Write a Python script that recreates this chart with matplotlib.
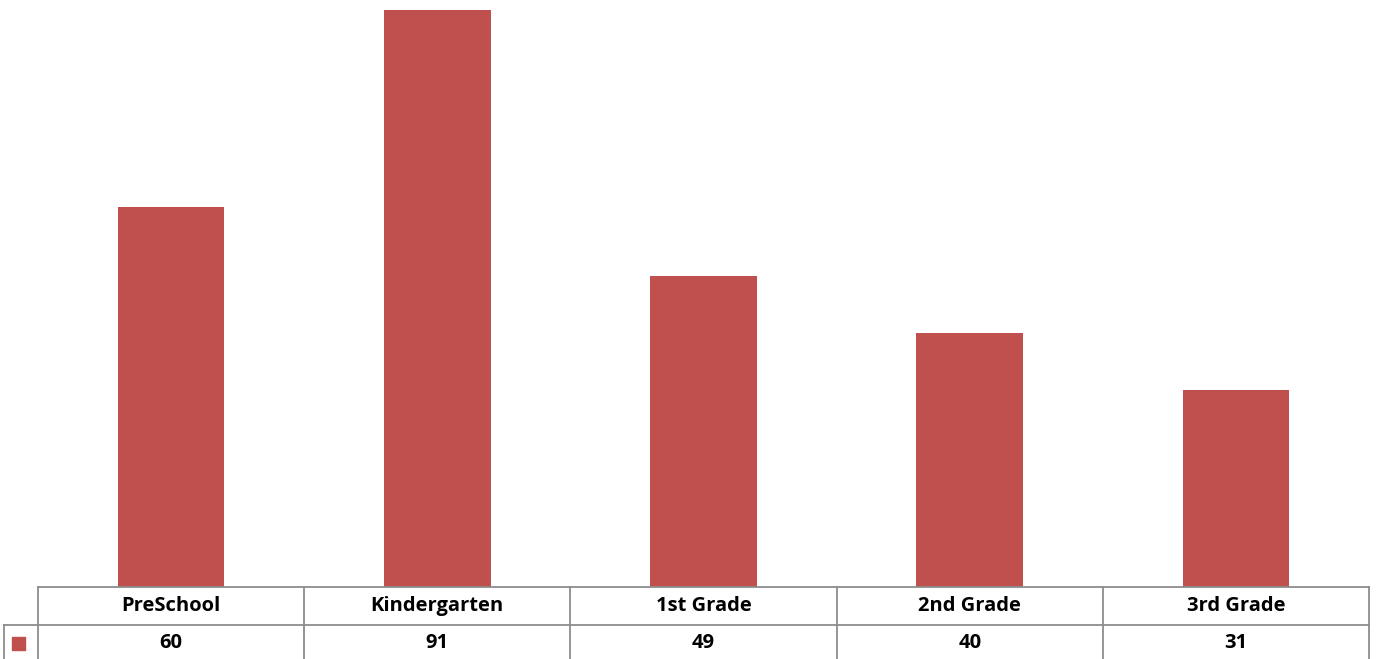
import matplotlib.pyplot as plt
import matplotlib.transforms as mtransforms
from matplotlib.lines import Line2D
from matplotlib.patches import Rectangle

grades = ['PreSchool', 'Kindergarten', '1st Grade', '2nd Grade', '3rd Grade']
counts = [60, 91, 49, 40, 31]

BAR = '#C0504D'
GRID = '#8C8C8C'
W, H = 1377, 659


def fy(py):
    """ pixel row from top -> figure fraction """
    return (H - py) / H


plt.rcParams['font.family'] = ['Open Sans', 'DejaVu Sans']

fig = plt.figure(figsize=(W / 100, H / 100), dpi=100)
ax = fig.add_axes([38 / W, fy(587), 1331 / W, 587 / H])
ax.bar(range(len(grades)), counts, width=0.4, color=BAR)
ax.set_xlim(-0.5, len(grades) - 0.5)
ax.set_ylim(0, 92.6)
ax.axis('off')

# data table under the plot
trans = mtransforms.blended_transform_factory(ax.transData, fig.transFigure)
top, mid, bot = fy(587), fy(625), fy(662)
fig.add_artist(Line2D([-0.5, len(grades) - 0.5], [top, top], transform=trans, color=GRID, lw=1.3))
fig.add_artist(Line2D([4 / W, 1369 / W], [mid, mid], transform=fig.transFigure, color=GRID, lw=1.3))
fig.add_artist(Line2D([4 / W, 4 / W], [mid, bot], transform=fig.transFigure, color=GRID, lw=1.3))
for i in range(len(grades) + 1):
    fig.add_artist(Line2D([i - 0.5, i - 0.5], [top, bot], transform=trans, color=GRID, lw=1.3))

for i, (g, c) in enumerate(zip(grades, counts)):
    fig.text(i, fy(606), g, transform=trans, ha='center', va='center',
             fontsize=14.5, fontweight='bold')
    fig.text(i, fy(643), str(c), transform=trans, ha='center', va='center',
             fontsize=14.5, fontweight='bold')

# legend key
fig.add_artist(Rectangle((12 / W, fy(650)), 13 / W, 13 / H, transform=fig.transFigure,
                         color=BAR))

fig.savefig('out.png', dpi=100, facecolor='white')
